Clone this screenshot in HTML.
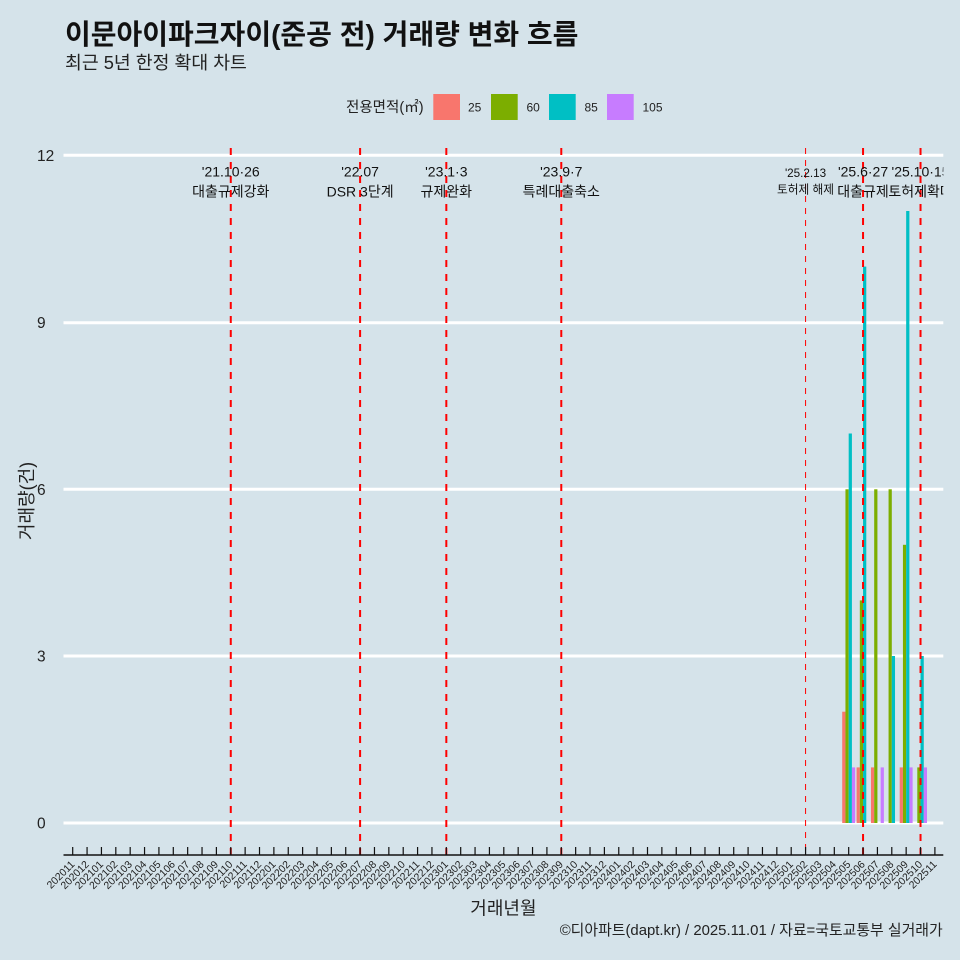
<!DOCTYPE html>
<html><head><meta charset="utf-8"><style>
html,body{margin:0;padding:0;background:#d5e3ea;}
svg{display:block;}
text{font-family:"Liberation Sans","Noto Sans CJK KR",sans-serif;}
</style></head><body>
<svg width="960" height="960" viewBox="0 0 960 960" xmlns="http://www.w3.org/2000/svg">
<rect width="960" height="960" fill="#d5e3ea"/>
<defs><clipPath id="pc"><rect x="63.5" y="140" width="879.8" height="720"/></clipPath></defs>
<!-- title -->
<text x="65" y="44" font-size="28" font-weight="bold" fill="#111">이문아이파크자이(준공 전) 거래량 변화 흐름</text>
<text x="65" y="69" font-size="18.3" fill="#222">최근 5년 한정 확대 차트</text>
<!-- legend -->
<text x="346" y="112" font-size="14.5" fill="#222">전용면적(㎡)</text>
<rect x="433.3" y="94" width="26.7" height="26" fill="#F8766D"/>
<text x="468" y="111.5" font-size="12" fill="#222">25</text>
<rect x="491" y="94" width="26.7" height="26" fill="#7CAE00"/>
<text x="526.5" y="111.5" font-size="12" fill="#222">60</text>
<rect x="549" y="94" width="26.7" height="26" fill="#00BFC4"/>
<text x="584.5" y="111.5" font-size="12" fill="#222">85</text>
<rect x="607" y="94" width="26.7" height="26" fill="#C77CFF"/>
<text x="642.5" y="111.5" font-size="12" fill="#222">105</text>
<!-- gridlines -->
<g stroke="#ffffff" stroke-width="3">
<line x1="63.5" x2="943.3" y1="823" y2="823"/>
<line x1="63.5" x2="943.3" y1="656" y2="656"/>
<line x1="63.5" x2="943.3" y1="489.3" y2="489.3"/>
<line x1="63.5" x2="943.3" y1="322.7" y2="322.7"/>
<line x1="63.5" x2="943.3" y1="155.3" y2="155.3"/>
</g>
<!-- y labels -->
<g font-size="15.5" fill="#222">
<text x="37" y="828.5">0</text>
<text x="37" y="661.5">3</text>
<text x="37" y="494.8">6</text>
<text x="37" y="328.2">9</text>
<text x="37" y="160.8">12</text>
</g>
<text transform="translate(33,501) rotate(-90)" text-anchor="middle" font-size="18" fill="#222">거래량(건)</text>
<!-- bars -->
<g>
<rect x="842.21" y="711.7" width="3.233" height="111.3" fill="#F8766D"/>
<rect x="845.45" y="489.3" width="3.233" height="333.7" fill="#7CAE00"/>
<rect x="848.68" y="433.5" width="3.233" height="389.5" fill="#00BFC4"/>
<rect x="851.91" y="767.4" width="3.233" height="55.6" fill="#C77CFF"/>

<rect x="856.58" y="767.4" width="3.233" height="55.6" fill="#F8766D"/>
<rect x="859.82" y="600.4" width="3.233" height="222.6" fill="#7CAE00"/>
<rect x="863.05" y="266.6" width="3.233" height="556.4" fill="#00BFC4"/>

<rect x="870.95" y="767.4" width="3.233" height="55.6" fill="#F8766D"/>
<rect x="874.19" y="489.3" width="3.233" height="333.7" fill="#7CAE00"/>
<rect x="880.65" y="767.4" width="3.233" height="55.6" fill="#C77CFF"/>

<rect x="888.56" y="489.3" width="3.233" height="333.7" fill="#7CAE00"/>
<rect x="891.79" y="656" width="3.233" height="167" fill="#00BFC4"/>

<rect x="899.69" y="767.4" width="3.233" height="55.6" fill="#F8766D"/>
<rect x="902.93" y="544.8" width="3.233" height="278.2" fill="#7CAE00"/>
<rect x="906.16" y="211" width="3.233" height="612" fill="#00BFC4"/>
<rect x="909.39" y="767.4" width="3.233" height="55.6" fill="#C77CFF"/>

<rect x="917.3" y="767.4" width="3.233" height="55.6" fill="#7CAE00"/>
<rect x="920.53" y="656" width="3.233" height="167" fill="#00BFC4"/>
<rect x="923.76" y="767.4" width="3.233" height="55.6" fill="#C77CFF"/>
</g>
<!-- dashed lines -->
<g stroke="#ff0000" stroke-width="2" stroke-dasharray="7 7" fill="none">
<line x1="230.77" x2="230.77" y1="148" y2="855"/>
<line x1="360.1" x2="360.1" y1="148" y2="855"/>
<line x1="446.32" x2="446.32" y1="148" y2="855"/>
<line x1="561.28" x2="561.28" y1="148" y2="855"/>
<line x1="863.05" x2="863.05" y1="148" y2="855"/>
<line x1="920.53" x2="920.53" y1="148" y2="855"/>
</g>
<line x1="805.57" x2="805.57" y1="148" y2="855" stroke="#ff0000" stroke-width="1" stroke-dasharray="6 6"/>
<!-- annotations -->
<g clip-path="url(#pc)" font-size="14" fill="#111" text-anchor="middle">
<text x="230.77" y="176.5">'21.10·26</text>
<text x="230.77" y="196.5">대출규제강화</text>
<text x="360.1" y="176.5">'22.07</text>
<text x="360.1" y="196.5">DSR 3단계</text>
<text x="446.32" y="176.5">'23.1·3</text>
<text x="446.32" y="196.5">규제완화</text>
<text x="561.28" y="176.5">'23.9·7</text>
<text x="561.28" y="196.5">특례대출축소</text>
<text x="805.57" y="177" font-size="11.7">'25.2.13</text>
<text x="805.57" y="193.5" font-size="11.7">토허제 해제</text>
<text x="863.05" y="176.5">'25.6·27</text>
<text x="863.05" y="196.5">대출규제</text>
<text x="920.53" y="176.5">'25.10·15</text>
<text x="920.53" y="196.5">토허제확대</text>
</g>
<!-- axis -->
<line x1="63.5" x2="943.3" y1="855" y2="855" stroke="#111" stroke-width="1.5"/>
<line x1="72.1" x2="936" y1="851" y2="851" stroke="#111" stroke-width="8" stroke-dasharray="1.2 13.17"/>
<!-- x labels -->
<g font-size="10.5" fill="#222" text-anchor="end">
<text transform="translate(75.2,865) rotate(-45)">202011</text>
<text transform="translate(89.6,865) rotate(-45)">202012</text>
<text transform="translate(103.9,865) rotate(-45)">202101</text>
<text transform="translate(118.3,865) rotate(-45)">202102</text>
<text transform="translate(132.7,865) rotate(-45)">202103</text>
<text transform="translate(147.1,865) rotate(-45)">202104</text>
<text transform="translate(161.4,865) rotate(-45)">202105</text>
<text transform="translate(175.8,865) rotate(-45)">202106</text>
<text transform="translate(190.2,865) rotate(-45)">202107</text>
<text transform="translate(204.5,865) rotate(-45)">202108</text>
<text transform="translate(218.9,865) rotate(-45)">202109</text>
<text transform="translate(233.3,865) rotate(-45)">202110</text>
<text transform="translate(247.6,865) rotate(-45)">202111</text>
<text transform="translate(262.0,865) rotate(-45)">202112</text>
<text transform="translate(276.4,865) rotate(-45)">202201</text>
<text transform="translate(290.8,865) rotate(-45)">202202</text>
<text transform="translate(305.1,865) rotate(-45)">202203</text>
<text transform="translate(319.5,865) rotate(-45)">202204</text>
<text transform="translate(333.9,865) rotate(-45)">202205</text>
<text transform="translate(348.2,865) rotate(-45)">202206</text>
<text transform="translate(362.6,865) rotate(-45)">202207</text>
<text transform="translate(377.0,865) rotate(-45)">202208</text>
<text transform="translate(391.3,865) rotate(-45)">202209</text>
<text transform="translate(405.7,865) rotate(-45)">202210</text>
<text transform="translate(420.1,865) rotate(-45)">202211</text>
<text transform="translate(434.5,865) rotate(-45)">202212</text>
<text transform="translate(448.8,865) rotate(-45)">202301</text>
<text transform="translate(463.2,865) rotate(-45)">202302</text>
<text transform="translate(477.6,865) rotate(-45)">202303</text>
<text transform="translate(491.9,865) rotate(-45)">202304</text>
<text transform="translate(506.3,865) rotate(-45)">202305</text>
<text transform="translate(520.7,865) rotate(-45)">202306</text>
<text transform="translate(535.0,865) rotate(-45)">202307</text>
<text transform="translate(549.4,865) rotate(-45)">202308</text>
<text transform="translate(563.8,865) rotate(-45)">202309</text>
<text transform="translate(578.2,865) rotate(-45)">202310</text>
<text transform="translate(592.5,865) rotate(-45)">202311</text>
<text transform="translate(606.9,865) rotate(-45)">202312</text>
<text transform="translate(621.3,865) rotate(-45)">202401</text>
<text transform="translate(635.6,865) rotate(-45)">202402</text>
<text transform="translate(650.0,865) rotate(-45)">202403</text>
<text transform="translate(664.4,865) rotate(-45)">202404</text>
<text transform="translate(678.7,865) rotate(-45)">202405</text>
<text transform="translate(693.1,865) rotate(-45)">202406</text>
<text transform="translate(707.5,865) rotate(-45)">202407</text>
<text transform="translate(721.9,865) rotate(-45)">202408</text>
<text transform="translate(736.2,865) rotate(-45)">202409</text>
<text transform="translate(750.6,865) rotate(-45)">202410</text>
<text transform="translate(765.0,865) rotate(-45)">202411</text>
<text transform="translate(779.3,865) rotate(-45)">202412</text>
<text transform="translate(793.7,865) rotate(-45)">202501</text>
<text transform="translate(808.1,865) rotate(-45)">202502</text>
<text transform="translate(822.4,865) rotate(-45)">202503</text>
<text transform="translate(836.8,865) rotate(-45)">202504</text>
<text transform="translate(851.2,865) rotate(-45)">202505</text>
<text transform="translate(865.6,865) rotate(-45)">202506</text>
<text transform="translate(879.9,865) rotate(-45)">202507</text>
<text transform="translate(894.3,865) rotate(-45)">202508</text>
<text transform="translate(908.7,865) rotate(-45)">202509</text>
<text transform="translate(923.0,865) rotate(-45)">202510</text>
<text transform="translate(937.4,865) rotate(-45)">202511</text>
</g>
<text x="503.4" y="914.5" text-anchor="middle" font-size="18" fill="#222">거래년월</text>
<text x="942.7" y="935" text-anchor="end" font-size="14.9" fill="#222">©디아파트(dapt.kr) / 2025.11.01 / 자료=국토교통부 실거래가</text>
</svg>
</body></html>
